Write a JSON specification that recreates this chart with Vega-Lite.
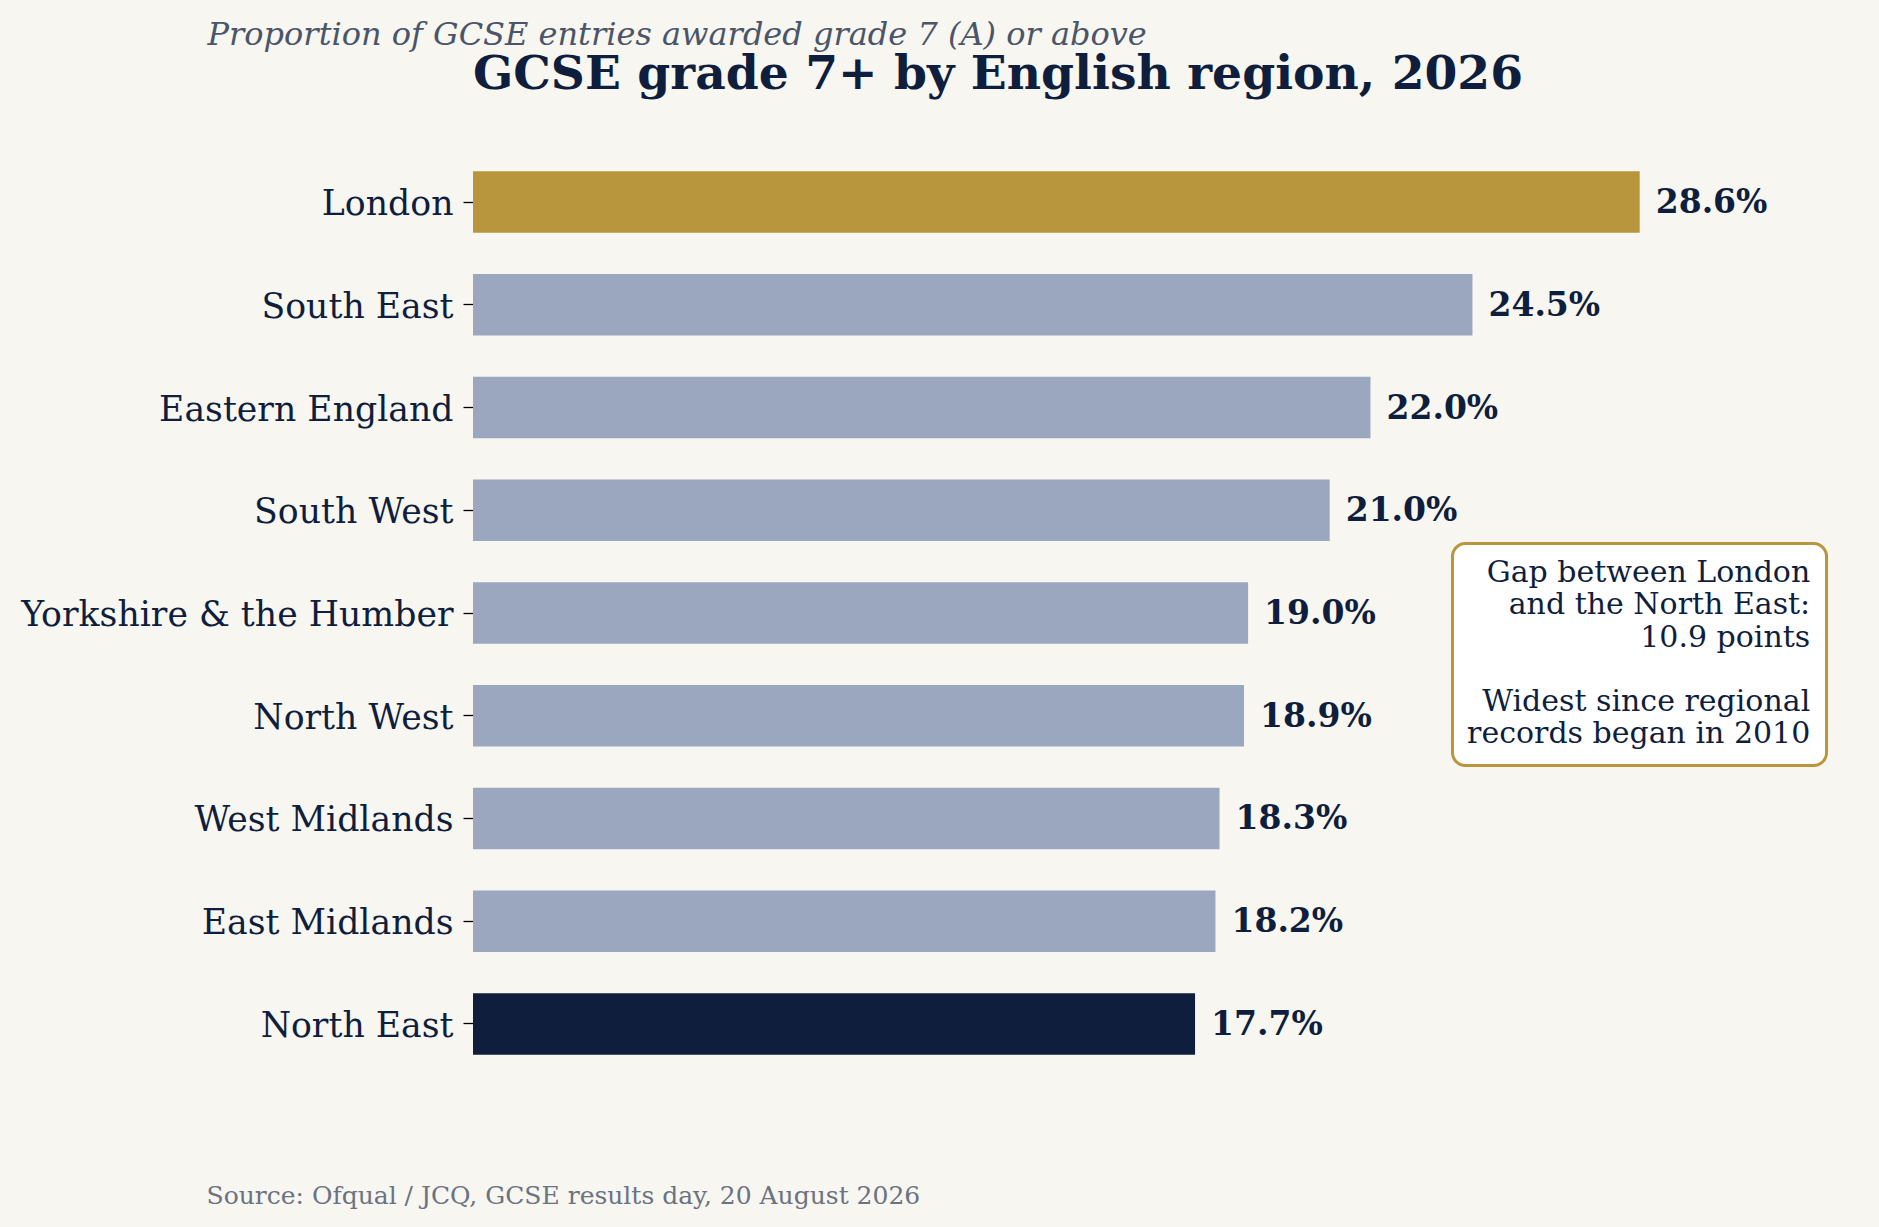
{
  "$schema": "https://vega.github.io/schema/vega-lite/v6.json",
  "autosize": {"type": "none"},
  "padding": {"left": 473, "top": 127, "right": 19, "bottom": 128},
  "width": 1387,
  "height": 972,
  "background": "#f8f6f1",
  "config": {"view": {"stroke": null}, "font": "DejaVu Serif"},
  "title": {
    "text": "GCSE grade 7+ by English region, 2026",
    "anchor": "start",
    "frame": "group",
    "font": "DejaVu Serif",
    "fontSize": 47.2,
    "fontWeight": "bold",
    "color": "#0f1e3c",
    "baseline": "alphabetic",
    "offset": -118
  },
  "data": {
    "values": [
      {"region": "London", "pct": 0.286},
      {"region": "South East", "pct": 0.245},
      {"region": "Eastern England", "pct": 0.220},
      {"region": "South West", "pct": 0.210},
      {"region": "Yorkshire & the Humber", "pct": 0.190},
      {"region": "North West", "pct": 0.189},
      {"region": "West Midlands", "pct": 0.183},
      {"region": "East Midlands", "pct": 0.182},
      {"region": "North East", "pct": 0.177}
    ]
  },
  "resolve": {"scale": {"y": "independent"}, "axis": {"y": "independent"}},
  "layer": [
    {
      "layer": [
        {
          "mark": {"type": "bar"},
          "encoding": {
            "y": {
              "field": "region",
              "type": "nominal",
              "sort": null,
              "scale": {"paddingInner": 0.4, "paddingOuter": 0.43},
              "axis": {
                "title": "Proportion of GCSE entries awarded grade 7 (A) or above",
                "titleAngle": 0,
                "titleAlign": "left",
                "titleAnchor": null,
                "titleBaseline": "alphabetic",
                "titleX": -266,
                "titleY": -83,
                "titleFont": "DejaVu Serif",
                "titleFontStyle": "italic",
                "titleFontWeight": "normal",
                "titleFontSize": 32,
                "titleColor": "#4a5568",
                "labelFont": "DejaVu Serif",
                "labelFontSize": 34.7,
                "labelColor": "#0f1e3c",
                "labelLimit": 0,
                "labelPadding": 10,
                "labelOffset": 3,
                "tickSize": 10,
                "tickWidth": 1.3,
                "tickColor": "#000000",
                "domain": false,
                "grid": false
              }
            },
            "x": {
              "field": "pct",
              "type": "quantitative",
              "scale": {"domain": [0, 0.34], "nice": false, "zero": true},
              "axis": {
                "title": "Source: Ofqual / JCQ, GCSE results day, 20 August 2026",
                "labels": false,
                "ticks": false,
                "domain": false,
                "grid": false,
                "titleX": -267,
                "titleY": 104,
                "titleAlign": "left",
                "titleAnchor": null,
                "titleBaseline": "alphabetic",
                "titleFont": "DejaVu Serif",
                "titleFontSize": 25,
                "titleFontWeight": "normal",
                "titleColor": "#6b7280"
              }
            },
            "color": {
              "condition": [
                {"test": "datum.region === 'London'", "value": "#b8963e"},
                {"test": "datum.region === 'North East'", "value": "#0f1e3c"}
              ],
              "value": "#9ba7be"
            }
          }
        },
        {
          "mark": {
            "type": "text",
            "align": "left",
            "baseline": "middle",
            "dx": 16,
            "dy": 1,
            "font": "DejaVu Serif",
            "fontSize": 33,
            "fontWeight": "bold",
            "color": "#0f1e3c"
          },
          "encoding": {
            "y": {"field": "region", "type": "nominal", "sort": null},
            "x": {"field": "pct", "type": "quantitative"},
            "text": {"field": "pct", "type": "quantitative", "format": ".1%"}
          }
        }
      ]
    },
    {
      "data": {"values": [{"note": "box"}]},
      "layer": [
        {
          "mark": {
            "type": "rect",
            "fill": "#ffffff",
            "stroke": "#b8963e",
            "strokeWidth": 3,
            "cornerRadius": 13
          },
          "encoding": {
            "x": {"datum": 0.2401, "type": "quantitative"},
            "x2": {"datum": 0.3318},
            "y": {
              "datum": 3.324,
              "type": "quantitative",
              "scale": {"domain": [-0.73, 8.73], "reverse": true, "nice": false, "zero": false},
              "axis": null
            },
            "y2": {"datum": 5.485}
          }
        },
        {
          "mark": {
            "type": "text",
            "align": "right",
            "baseline": "alphabetic",
            "font": "DejaVu Serif",
            "fontSize": 30,
            "lineHeight": 32.3,
            "color": "#0f1e3c"
          },
          "encoding": {
            "x": {"datum": 0.3278, "type": "quantitative"},
            "y": {"datum": 3.698, "type": "quantitative"},
            "text": {"value": ["Gap between London", "and the North East:", "10.9 points"]}
          }
        },
        {
          "mark": {
            "type": "text",
            "align": "right",
            "baseline": "alphabetic",
            "font": "DejaVu Serif",
            "fontSize": 30,
            "lineHeight": 32.3,
            "color": "#0f1e3c"
          },
          "encoding": {
            "x": {"datum": 0.3278, "type": "quantitative"},
            "y": {"datum": 4.955, "type": "quantitative"},
            "text": {"value": ["Widest since regional", "records began in 2010"]}
          }
        }
      ]
    }
  ]
}
